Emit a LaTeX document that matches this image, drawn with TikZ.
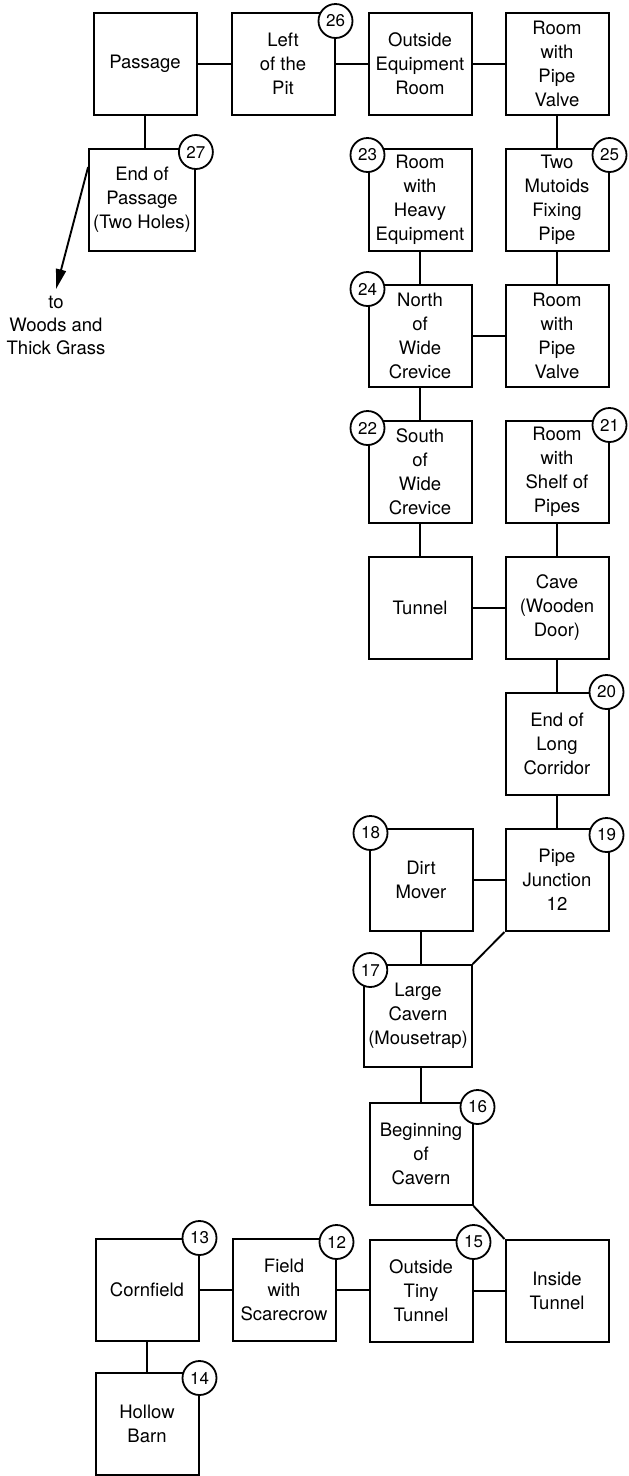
\documentclass[tikz,border=0pt]{standalone}
\usepackage{fontspec}
\setmainfont{TeX Gyre Heros}
\usepackage{tikz}
\usetikzlibrary{arrows.meta}

\begin{document}
\begin{tikzpicture}[x=1pt,y=-1pt,
  sala/.style={draw, line width=2pt, minimum width=103pt, minimum height=102pt,
    inner xsep=4pt, align=center, font=\fontsize{18.5}{24}\selectfont},
  num/.style={draw, circle, fill=white, line width=1.8pt, minimum size=34pt,
    inner sep=0pt, font=\fontsize{17}{17}\selectfont},
  pasillo/.style={line width=1.9pt}]

% Marco de la figura
\useasboundingbox (0,0) rectangle (629,1476);

% Salas
\node[sala] (pass)   at (145,64)   {Passage};
\node[sala] (pit)    at (283,64)   {Left\\of the\\Pit};
\node[sala] (outeq)  at (420,64)   {Outside\\Equipment\\Room};
\node[sala] (valvA)  at (557,64)   {Room\\with\\Pipe\\Valve};
\node[sala] (endp)   at (142,200)  {End of\\Passage\\(Two Holes)};
\node[sala] (heavy)  at (420,200)  {Room\\with\\Heavy\\Equipment};
\node[sala] (mutoid) at (557,200)  {Two\\Mutoids\\Fixing\\Pipe};
\node[sala] (north)  at (420,336)  {North\\of\\Wide\\Crevice};
\node[sala] (valvB)  at (557,336)  {Room\\with\\Pipe\\Valve};
\node[sala] (south)  at (420,472)  {South\\of\\Wide\\Crevice};
\node[sala] (shelf)  at (557,472)  {Room\\with\\Shelf of\\Pipes};
\node[sala] (tunnel) at (420,608)  {Tunnel};
\node[sala] (cave)   at (557,608)  {Cave\\(Wooden\\Door)};
\node[sala] (corr)   at (557,744)  {End of\\Long\\Corridor};
\node[sala] (dirt)   at (421,880)  {Dirt\\Mover};
\node[sala] (junc)   at (557,880)  {Pipe\\Junction\\12};
\node[sala] (cavern) at (418,1016) {Large\\Cavern\\(Mousetrap)};
\node[sala] (begin)  at (421,1154) {Beginning\\of\\Cavern};
\node[sala] (corn)   at (147,1290) {Cornfield};
\node[sala] (field)  at (284,1290) {Field\\with\\Scarecrow};
\node[sala] (tiny)   at (421,1291) {Outside\\Tiny\\Tunnel};
\node[sala] (inside) at (557,1291) {Inside\\Tunnel};
\node[sala] (barn)   at (147,1424) {Hollow\\Barn};

% Texto de salida
\node[align=center, font=\fontsize{18.5}{23}\selectfont] (woods) at (56,325)
  {to\\Woods and\\Thick Grass};

% Pasillos
\draw[pasillo] (pass) -- (pit);
\draw[pasillo] (pit) -- (outeq);
\draw[pasillo] (outeq) -- (valvA);
\draw[pasillo] (pass.south) -- (pass.south |- endp.north);
\draw[pasillo] (valvA) -- (mutoid);
\draw[pasillo] (heavy) -- (north);
\draw[pasillo] (mutoid) -- (valvB);
\draw[pasillo] (north) -- (valvB);
\draw[pasillo] (north) -- (south);
\draw[pasillo] (south) -- (tunnel);
\draw[pasillo] (shelf) -- (cave);
\draw[pasillo] (tunnel) -- (cave);
\draw[pasillo] (cave) -- (corr);
\draw[pasillo] (corr) -- (junc);
\draw[pasillo] (dirt) -- (junc);
\draw[pasillo] (dirt.south) -- (dirt.south |- cavern.north);
\draw[pasillo] (junc.south west) -- (cavern.north east);
\draw[pasillo] (begin.north |- cavern.south) -- (begin.north);
\draw[pasillo] (begin.south east) -- (inside.north west);
\draw[pasillo] (corn) -- (field);
\draw[pasillo] (field.east) -- (field.east -| tiny.west);
\draw[pasillo] (tiny) -- (inside);
\draw[pasillo] (corn) -- (barn);

% Flecha hacia el bosque
\coordinate (salida) at ([yshift=-19pt]endp.north west);
\draw[pasillo, -{Triangle[length=20pt, width=10pt]}] (salida) -- ([yshift=3pt]woods.north);

% Numeros
\node[num] (n26) at ([yshift=-9pt]pit.north east)    {26};
\node[num] (n27) at ([yshift=-4pt]endp.north east)   {27};
\node[num] (n23) at ([yshift=-7pt]heavy.north west)  {23};
\node[num] (n25) at ([yshift=-7pt]mutoid.north east) {25};
\node[num] (n24) at ([yshift=-5pt]north.north west)  {24};
\node[num] (n22) at ([yshift=-8pt]south.north west)  {22};
\node[num] (n21) at ([yshift=-5pt]shelf.north east)  {21};
\node[num] (n20) at ([xshift=-3pt]corr.north east)   {20};
\node[num] (n19) at ([shift={(-3pt,-7pt)}]junc.north east) {19};
\node[num] (n18) at ([shift={(2pt,-5pt)}]dirt.north west)  {18};
\node[num] (n17) at ([shift={(7pt,-6pt)}]cavern.north west) {17};
\node[num] (n16) at ([shift={(4pt,-5pt)}]begin.north east) {16};
\node[num] (n13) at (corn.north east)                 {13};
\node[num] (n12) at ([yshift=-4pt]field.north east)  {12};
\node[num] (n15) at ([yshift=-3pt]tiny.north east)   {15};
\node[num] (n14) at ([yshift=-6pt]barn.north east)   {14};

\end{tikzpicture}
\end{document}
